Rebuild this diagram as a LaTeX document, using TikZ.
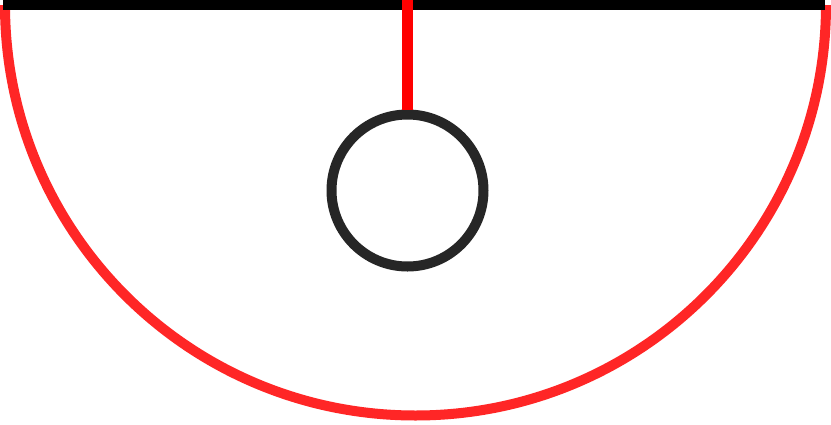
\documentclass[tikz,border=0pt]{standalone}
\begin{document}
\begin{tikzpicture}[x=1pt,y=-1pt,
  arcline/.style={draw={rgb,255:red,255;green,38;blue,38}, line width=10pt},
  barline/.style={draw=black, line width=10pt},
  stemline/.style={draw={rgb,255:red,255;green,0;blue,0}, line width=11pt},
  ring/.style={circle, draw={rgb,255:red,38;green,38;blue,38}, line width=10pt, minimum size=152pt, inner sep=0pt}]
\useasboundingbox (0,0) rectangle (831,424);
\fill[white] (0,0) rectangle (831,424);
\draw[arcline] (5,5) arc[start angle=180, end angle=0, radius=410.5];
\coordinate (barL) at (3,5);
\coordinate (barR) at (825,5);
\draw[barline] (barL) -- (barR);
\node[ring] (c) at (407.5,190.5) {};
\coordinate (top) at (407.5,0);
\draw[stemline] (top) -- (c.north);
\end{tikzpicture}
\end{document}
